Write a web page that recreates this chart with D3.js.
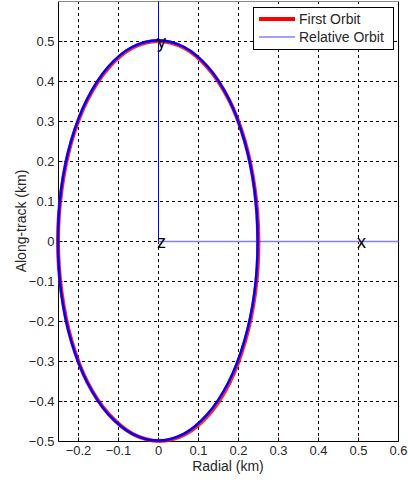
<!DOCTYPE html>
<html>
<head>
<meta charset="utf-8">
<script src="https://cdn.jsdelivr.net/npm/d3@7"></script>
<style>
  body { margin: 0; background: #fff; }
  svg { font-family: Arial, "Liberation Sans", sans-serif; }
</style>
</head>
<body>
<svg id="chart" width="408" height="483"></svg>
<script>
// ORBIT DATA (km)

var radialTicks = [-0.2, -0.1, 0, 0.1, 0.2, 0.3, 0.4, 0.5, 0.6];
var alongTicks = [-0.5, -0.4, -0.3, -0.2, -0.1, 0, 0.1, 0.2, 0.3, 0.4, 0.5];

var firstRadial = [0, 0.065, 0.125, 0.177, 0.217, 0.242, 0.251, 0.243, 0.218, 0.179, 0.128, 0.068, 0.004,
                   -0.062, -0.123, -0.176, -0.216, -0.241, -0.25, -0.241, -0.216, -0.176, -0.124, -0.064];
var firstAlong = [0.5, 0.483, 0.433, 0.354, 0.25, 0.129, 0, -0.129, -0.25, -0.354, -0.433, -0.483, -0.5,
                  -0.483, -0.433, -0.354, -0.25, -0.129, 0, 0.129, 0.25, 0.354, 0.433, 0.483];

var relRadial = [0, 0.065, 0.125, 0.177, 0.216, 0.241, 0.249, 0.241, 0.216, 0.176, 0.124, 0.064, 0,
                 -0.064, -0.125, -0.177, -0.217, -0.242, -0.25, -0.242, -0.217, -0.177, -0.125, -0.065];
var relAlong = [0.502, 0.485, 0.435, 0.355, 0.251, 0.13, 0, -0.129, -0.249, -0.353, -0.432, -0.482, -0.499,
                -0.482, -0.432, -0.353, -0.25, -0.129, 0, 0.13, 0.251, 0.355, 0.435, 0.485];

var frameAxes = [
  { label: "y", from: [0, 0], to: [0, 0.6], at: [0.0, 0.5], colour: "#0000ff", width: 1 },
  { label: "x", from: [0, 0], to: [0.6, 0], at: [0.5, 0.0], colour: "#8080ff", width: 1.5 }
];
var originLabel = "z";
var legendNames = ["First Orbit", "Relative Orbit"];

(function () {
  var svg = d3.select("#chart");
  var left = 58, right = 398, top = 1, bottom = 441;

  var x = d3.scaleLinear().domain([-0.25, 0.6]).range([left, right]);
  var y = d3.scaleLinear().domain([-0.5, 0.6]).range([bottom, top]);

  // grid
  var grid = svg.append("g").attr("stroke", "#000").attr("stroke-width", 1)
      .attr("stroke-dasharray", "3,3").attr("shape-rendering", "crispEdges");
  grid.selectAll(".gx").data(radialTicks.filter(function (d) { return d < 0.6; }))
    .enter().append("line")
      .attr("x1", function (d) { return Math.round(x(d)) + 0.5; })
      .attr("x2", function (d) { return Math.round(x(d)) + 0.5; })
      .attr("y1", top).attr("y2", bottom);
  grid.selectAll(".gy").data(alongTicks.filter(function (d) { return d > -0.5; }))
    .enter().append("line")
      .attr("y1", function (d) { return Math.round(y(d)) + 0.5; })
      .attr("y2", function (d) { return Math.round(y(d)) + 0.5; })
      .attr("x1", left).attr("x2", right);

  // axes
  var xAxis = d3.axisBottom(x).tickValues(radialTicks).tickSize(-4).tickPadding(4)
      .tickFormat(function (d) { return d === 0 ? "0" : d3.format("")(d); });
  var yAxis = d3.axisLeft(y).tickValues(alongTicks).tickSize(-4).tickPadding(4)
      .tickFormat(function (d) { return d === 0 ? "0" : d3.format("")(d); });

  var gx = svg.append("g").attr("transform", "translate(0," + (bottom + 0.5) + ")").call(xAxis);
  var gy = svg.append("g").attr("transform", "translate(" + (left + 0.5) + ",0)").call(yAxis);
  [gx, gy].forEach(function (g) {
    g.select(".domain").remove();
    g.selectAll("line").attr("stroke", "#000");
    g.selectAll("text").attr("fill", "#262626").style("font-size", "13px")
      .style("font-family", "Arial, 'Liberation Sans', sans-serif");
  });

  // plot box
  svg.append("path")
      .attr("d", "M" + (left + 0.5) + "," + (top + 0.5) + "V" + (bottom + 0.5) + "H" + (right + 0.5) + "V" + (top + 0.5))
      .attr("fill", "none").attr("stroke", "#000");
  svg.append("line").attr("x1", left).attr("x2", right + 1).attr("y1", top + 0.5).attr("y2", top + 0.5)
      .attr("stroke", "#888");

  // frame axes (x, y, z)
  frameAxes.forEach(function (a) {
    svg.append("line")
      .attr("x1", Math.round(x(a.from[0])) + 0.5).attr("y1", Math.round(y(a.from[1])) + 0.5)
      .attr("x2", Math.round(x(a.to[0])) + 0.5).attr("y2", Math.round(y(a.to[1])) + 0.5)
      .attr("stroke", a.colour).attr("stroke-width", a.width);
  });

  // orbits
  var line = d3.line()
      .x(function (d) { return x(d[0]); })
      .y(function (d) { return y(d[1]); })
      .curve(d3.curveCatmullRomClosed);

  var first = d3.zip(firstRadial, firstAlong);
  var rel = d3.zip(relRadial, relAlong);

  svg.append("path").datum(first).attr("d", line)
      .attr("fill", "none").attr("stroke", "#ff0000").attr("stroke-width", 4).attr("stroke-opacity", 0.85);
  svg.append("path").datum(rel).attr("d", line)
      .attr("fill", "none").attr("stroke", "#0000ff").attr("stroke-width", 2.5);

  // frame labels
  frameAxes.forEach(function (a) {
    svg.append("text").attr("x", x(a.at[0]) - 1).attr("y", y(a.at[1]) + 7)
      .style("font-size", "18px").attr("fill", "#000").text(a.label);
  });
  svg.append("text").attr("x", x(0) - 1).attr("y", y(0) + 7)
      .style("font-size", "18px").attr("fill", "#000").text(originLabel);

  // axis titles
  svg.append("text").attr("x", (left + right) / 2).attr("y", 471).attr("text-anchor", "middle")
      .style("font-size", "14px").attr("fill", "#262626").text("Radial (km)");
  svg.append("text").attr("transform", "translate(26," + ((top + bottom) / 2) + ") rotate(-90)")
      .attr("text-anchor", "middle").style("font-size", "14px").attr("fill", "#262626")
      .text("Along-track (km)");

  // legend
  var lg = svg.append("g").attr("transform", "translate(253,7)");
  lg.append("rect").attr("x", 0.5).attr("y", 0.5).attr("width", 140).attr("height", 42)
      .attr("fill", "#fff").attr("stroke", "#000");
  var legendStyle = [{ c: "#ff0000", w: 4 }, { c: "#4040ff", w: 1 }];
  legendNames.forEach(function (name, i) {
    var yy = 12 + i * 18;
    lg.append("line").attr("x1", 6).attr("x2", 42).attr("y1", yy).attr("y2", yy)
      .attr("stroke", legendStyle[i].c).attr("stroke-width", legendStyle[i].w);
    lg.append("text").attr("x", 46).attr("y", yy).attr("dy", "0.35em")
      .style("font-size", "14px").attr("fill", "#262626").text(name);
  });
})();
</script>
</body>
</html>
